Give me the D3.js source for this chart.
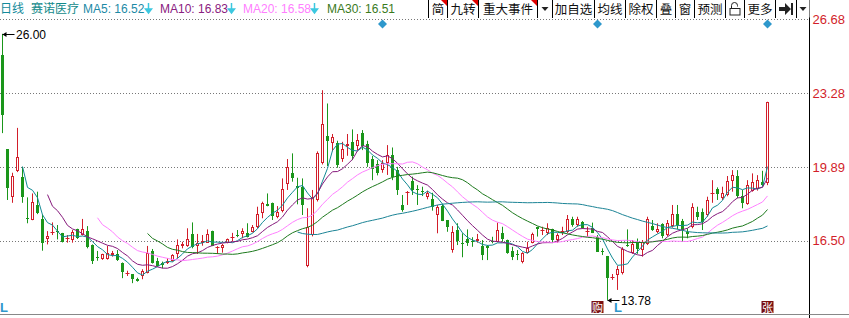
<!DOCTYPE html>
<html lang="zh">
<head>
<meta charset="utf-8">
<title>赛诺医疗 日线</title>
<script src="https://cdnjs.cloudflare.com/ajax/libs/d3/7.8.5/d3.min.js"></script>
<style>
  body { margin: 0; background: #fff; }
  svg { display: block; font-family: "Liberation Sans", "Noto Sans CJK SC", sans-serif; }
</style>
</head>
<body>
<script>
// daily OHLC (oldest first)
var openP = [25.02,20.69,18.52,19.71,19.41,17.55,17.44,18.14,17.50,16.56,16.84,16.95,16.84,16.58,16.53,17.02,16.76,16.94,16.30,15.75,
  15.65,15.65,15.85,15.89,15.49,14.98,14.97,14.74,14.88,15.00,16.03,15.59,15.49,15.49,15.58,15.88,16.27,16.27,16.81,16.26,
  16.38,16.41,16.94,16.19,16.15,16.38,16.64,16.78,16.81,16.87,16.91,17.14,17.76,18.18,18.22,17.57,17.86,19.09,19.59,19.01,
  18.95,15.35,16.76,18.37,20.05,21.30,20.97,20.99,20.23,20.86,21.04,20.84,21.43,20.94,20.23,20.00,19.74,20.05,20.43,19.74,
  18.14,18.72,19.25,18.88,18.76,18.50,18.40,17.68,18.09,17.45,16.07,16.99,16.40,16.56,16.50,16.49,16.26,16.26,16.47,16.45,
  16.84,16.53,16.04,15.87,15.54,15.95,16.41,17.12,16.95,16.84,17.02,16.53,16.89,16.91,17.48,17.22,17.37,16.90,17.07,16.68,
  16.05,15.80,14.80,14.93,15.00,16.29,15.95,16.38,16.07,16.35,17.17,16.91,17.27,16.76,17.17,17.72,17.42,16.91,17.14,17.83,
  17.83,17.68,18.67,18.86,18.45,18.60,19.25,19.47,18.55,18.18,18.80,18.86,19.21,19.13];
var highP = [26.00,20.69,19.62,21.68,19.89,18.49,18.67,18.75,17.71,16.94,17.34,17.22,16.86,16.76,16.99,17.05,17.50,17.17,16.33,16.03,
  15.90,16.26,16.03,16.07,15.50,15.12,14.97,14.80,15.19,16.26,16.12,15.71,15.54,15.69,15.88,16.56,16.45,17.07,17.34,16.81,
  16.76,17.02,16.96,16.25,16.35,16.60,16.86,16.99,17.07,17.30,17.22,18.06,18.29,18.67,18.25,18.09,19.36,20.25,20.51,19.39,
  19.36,17.99,18.83,20.60,23.41,22.80,21.40,21.09,21.04,21.40,21.61,21.40,21.58,21.09,20.39,20.20,20.20,20.89,20.78,19.89,
  18.60,18.78,19.44,19.05,18.98,18.79,18.70,18.14,18.18,17.45,17.17,17.30,16.84,17.02,16.66,16.81,16.53,16.30,16.68,17.33,
  17.14,16.55,16.22,16.07,15.97,16.45,16.87,17.14,17.14,17.30,17.05,16.84,17.14,17.68,17.60,17.60,17.40,17.14,17.33,16.76,
  16.15,15.80,14.97,15.34,16.20,17.02,16.53,16.60,16.53,17.60,17.45,17.30,17.30,17.45,18.14,18.14,17.50,17.07,18.22,18.06,
  17.98,18.52,19.28,18.95,18.98,19.47,19.74,19.74,18.83,19.28,19.59,19.51,19.71,22.88];
var lowP = [21.44,18.37,18.24,19.65,18.24,17.30,17.44,17.72,16.04,16.33,16.76,16.56,16.42,16.41,16.41,16.58,16.74,16.15,15.43,15.58,
  15.62,15.63,15.77,15.57,14.78,14.88,14.55,14.62,14.73,15.00,15.45,15.30,15.23,15.43,15.54,15.69,16.15,16.22,16.15,15.89,
  16.27,16.40,16.25,15.89,15.95,16.38,16.46,16.66,16.61,16.65,16.88,17.07,17.53,18.08,17.45,17.53,17.80,18.83,19.21,18.17,
  17.68,15.28,16.70,18.30,20.00,19.93,20.61,19.85,20.12,20.40,20.20,20.66,20.66,19.89,19.28,19.50,19.62,19.52,19.28,18.60,
  17.83,18.14,18.60,18.14,18.55,18.40,17.88,16.84,17.40,16.91,15.95,16.30,15.74,16.26,16.22,16.41,15.61,15.61,16.38,16.42,
  16.45,15.90,15.61,15.61,15.46,15.92,16.38,16.69,16.76,16.76,16.41,16.41,16.76,16.85,17.14,17.14,17.05,16.68,16.85,16.00,
  15.84,13.78,14.70,14.24,14.95,16.22,15.90,15.90,15.77,16.30,16.95,16.84,16.61,16.70,17.10,17.02,16.45,16.61,17.07,17.45,
  16.99,17.60,18.24,18.37,18.37,18.54,18.75,18.45,17.99,18.15,18.75,18.80,19.00,19.05];
var closeP = [22.27,18.93,19.47,20.33,18.52,17.48,18.28,17.76,16.41,16.72,16.91,16.90,16.43,16.62,16.89,16.61,17.02,16.20,15.58,15.74,
  15.88,15.92,15.95,15.61,15.08,15.02,14.74,14.67,15.11,15.95,15.49,15.34,15.39,15.58,15.84,16.30,16.35,16.56,16.22,16.38,
  16.49,16.81,16.27,16.23,16.30,16.56,16.68,16.75,16.96,16.68,17.14,17.71,18.22,18.09,17.65,17.83,18.86,19.89,19.39,18.90,
  18.14,17.14,18.52,20.52,21.85,21.08,21.24,19.97,20.69,20.94,20.39,21.12,20.84,20.05,19.78,19.62,20.08,20.43,19.41,18.83,
  17.91,18.75,18.83,18.86,18.74,18.70,18.03,18.03,17.42,17.11,16.91,16.50,16.36,16.38,16.48,16.57,15.84,16.15,16.45,16.99,
  16.56,15.95,15.77,15.84,15.92,16.15,16.81,17.06,16.99,17.07,16.53,16.76,16.93,17.48,17.22,17.48,17.07,16.93,16.87,16.00,
  16.03,14.78,14.84,15.19,16.11,16.26,16.35,16.11,16.45,17.48,16.99,17.02,16.72,17.33,17.72,17.22,16.99,16.81,18.03,17.57,
  17.37,18.37,18.70,18.64,18.67,19.25,19.51,18.55,18.24,19.06,19.21,19.28,19.06,22.88];

var maPeriods = [5, 10, 20, 30, 60];
var yTicks = [16.50, 19.89, 23.28, 26.68];
var eventIdx = [76, 119, 153];          // blue diamond markers
var legendItems = ["MA5: 16.52", "MA10: 16.83", "MA20: 16.58", "MA30: 16.51"];

var W = 849, H = 318;
var plotRight = 809.5;
var maColors = ["#128a94", "#86197c", "#ff80ff", "#1e7a1e", "#1c8496"];
var legendColors = ["#1c8aa6", "#8a2080", "#ff80ff", "#3a7a1c"];
var upColor = "#d21e2a", downColor = "#1a961a";

var svg = d3.select("body").append("svg")
    .attr("width", W)
    .attr("height", H);

// scales
var x = d3.scaleBand()
    .domain(d3.range(closeP.length))
    .range([0, closeP.length * 5]);
var cx = function(i) { return x(i) + x.bandwidth() / 2; };
var y = d3.scaleLinear()
    .domain([16.50, 26.68])
    .range([240.7, 19]);

// grid lines (dotted)
svg.append("g").selectAll("line")
    .data(yTicks)
    .enter().append("line")
    .attr("x1", 0).attr("x2", plotRight)
    .attr("y1", function(d) { return Math.round(y(d)) + 0.5; })
    .attr("y2", function(d) { return Math.round(y(d)) + 0.5; })
    .attr("stroke", "#777")
    .attr("stroke-dasharray", "1,2");

// right axis
var axis = svg.append("g")
    .attr("transform", "translate(" + plotRight + ",0)")
    .call(d3.axisRight(y).tickValues(yTicks).tickSize(0).tickPadding(3).tickFormat(d3.format(".2f")));
axis.select(".domain").remove();
axis.selectAll("text")
    .attr("fill", upColor)
    .attr("font-size", 13)
    .attr("font-family", "Liberation Sans, Arial, sans-serif");

svg.append("line")
    .attr("x1", plotRight).attr("x2", plotRight)
    .attr("y1", 0).attr("y2", H)
    .attr("stroke", "#000");
svg.append("line")
    .attr("x1", 0).attr("x2", W)
    .attr("y1", 314.5).attr("y2", 314.5)
    .attr("stroke", "#888");

// candles
var idx = d3.range(closeP.length);
var candles = svg.append("g").selectAll("g")
    .data(idx)
    .enter().append("g");

candles.each(function(i) {
  var g = d3.select(this);
  var o = openP[i], c = closeP[i], up = c >= o;
  var col = up ? upColor : downColor;
  var top = Math.round(y(Math.max(o, c))), bot = Math.round(y(Math.min(o, c)));
  var xc = cx(i);
  if (up) {
    g.append("line").attr("x1", xc).attr("x2", xc)
      .attr("y1", y(highP[i])).attr("y2", top).attr("stroke", col);
    g.append("line").attr("x1", xc).attr("x2", xc)
      .attr("y1", bot).attr("y2", y(lowP[i])).attr("stroke", col);
    if (bot - top < 2) {
      g.append("line").attr("x1", xc - 2).attr("x2", xc + 2)
        .attr("y1", top + 0.5).attr("y2", top + 0.5).attr("stroke", col);
    } else {
      g.append("rect")
        .attr("x", xc - 1).attr("y", top + 0.5)
        .attr("width", 2).attr("height", bot - top - 1)
        .attr("fill", "#fff").attr("stroke", col);
    }
  } else {
    g.append("line").attr("x1", xc).attr("x2", xc)
      .attr("y1", y(highP[i])).attr("y2", y(lowP[i])).attr("stroke", col);
    g.append("rect")
      .attr("x", xc - 1.5).attr("y", top)
      .attr("width", 3).attr("height", Math.max(bot - top, 1))
      .attr("fill", col);
  }
});
candles.selectAll("rect").attr("shape-rendering", "crispEdges");

// moving averages from closes
function movingAvg(n) {
  return closeP.map(function(c, i) {
    return i < n - 1 ? null : d3.mean(closeP.slice(i - n + 1, i + 1));
  });
}
var line = d3.line()
    .defined(function(d) { return d[1] !== null; })
    .x(function(d) { return cx(d[0]); })
    .y(function(d) { return y(d[1]); });

maPeriods.forEach(function(n, k) {
  var vals = movingAvg(n).map(function(v, i) { return [i, v]; });
  svg.append("path")
    .datum(vals)
    .attr("fill", "none")
    .attr("stroke", maColors[k])
    .attr("stroke-width", 1)
    .attr("d", line);
});

// max / min labels
function markLabel(i, v) {
  var xc = cx(i), yy = Math.round(y(v)) + 0.5;
  svg.append("line").attr("x1", xc).attr("x2", xc + 12)
    .attr("y1", yy).attr("y2", yy).attr("stroke", "#000");
  svg.append("path")
    .attr("d", "M" + xc + "," + yy + "l4,-2.5v5z")
    .attr("fill", "#000");
  svg.append("text")
    .attr("x", xc + 13.5).attr("y", yy + 4.5)
    .attr("font-size", 12).attr("fill", "#000")
    .text(d3.format(".2f")(v));
}
markLabel(d3.maxIndex(highP), d3.max(highP));
markLabel(d3.minIndex(lowP), d3.min(lowP));

// event diamonds
svg.append("g").selectAll("path")
    .data(eventIdx)
    .enter().append("path")
    .attr("d", function(i) { var xc = cx(i); return "M" + xc + ",19.5l4.5,4.5l-4.5,4.5l-4.5,-4.5z"; })
    .attr("fill", "#2e98cc");

// bottom signal boxes
[[119, "购"], [153, "张"]].forEach(function(s) {
  var xc = cx(s[0]);
  svg.append("rect").attr("x", xc - 6).attr("y", 301).attr("width", 12).attr("height", 12)
    .attr("fill", "#7a1010");
  svg.append("text").attr("x", xc).attr("y", 311.5)
    .attr("text-anchor", "middle").attr("font-size", 11).attr("fill", "#fff")
    .text(s[1]);
});
[0, 614].forEach(function(px) {
  svg.append("text").attr("x", px).attr("y", 312)
    .attr("font-size", 13).attr("font-weight", "bold").attr("fill", "#2e98cc")
    .text("L");
});

// legend
var leg = svg.append("g").attr("font-size", 12);
leg.append("text").attr("x", 0).attr("y", 13).attr("fill", "#138a9a").text("日线");
leg.append("text").attr("x", 31).attr("y", 13).attr("fill", "#138a8a").text("赛诺医疗");
var legX = [83, 160, 243, 327];
legendItems.forEach(function(t, k) {
  leg.append("text").attr("x", legX[k]).attr("y", 13).attr("fill", legendColors[k]).text(t);
  if (k < 3) {
    var ax = legX[k] + (k == 0 ? 65.5 : 71.5);
    leg.append("path")
      .attr("d", "M" + ax + ",3v7M" + (ax - 3) + ",9l3,4l3,-4z")
      .attr("stroke", "#3cc8e0").attr("fill", "#3cc8e0").attr("stroke-width", 1.5);
  }
});

// toolbar
var tools = [
  {a: 428.5, b: 447.5, t: "简", flag: true},
  {a: 447.5, b: 478.5, t: "九转", flag: true},
  {a: 478.5, b: 537.5, t: "重大事件", flag: true},
  {a: 537.5, b: 552.5, t: "", tri: true},
  {a: 552.5, b: 594.5, t: "加自选"},
  {a: 594.5, b: 625.5, t: "均线"},
  {a: 625.5, b: 656.5, t: "除权"},
  {a: 656.5, b: 675.5, t: "叠"},
  {a: 675.5, b: 694.5, t: "窗"},
  {a: 694.5, b: 725.5, t: "预测"},
  {a: 725.5, b: 744.5, t: "", lock: true},
  {a: 744.5, b: 775.5, t: "更多"},
  {a: 775.5, b: 796.5, t: "", end: true},
  {a: 796.5, b: 809.5, t: "", tri: true}
];
var tb = svg.append("g");
tb.append("rect").attr("x", 428.5).attr("y", 0).attr("width", 381).attr("height", 17.5).attr("fill", "#fff");
tools.forEach(function(d) {
  tb.append("line").attr("x1", d.a).attr("x2", d.a).attr("y1", 0).attr("y2", 18).attr("stroke", "#000");
  var mid = (d.a + d.b) / 2;
  if (d.t) {
    tb.append("text").attr("x", mid).attr("y", 13.5).attr("text-anchor", "middle")
      .attr("font-size", 12.5).attr("fill", "#111").text(d.t);
  }
  if (d.flag) {
    tb.append("path").attr("d", "M" + (d.b - 6.5) + ",0h6v6z").attr("fill", "#e00000");
  }
  if (d.tri) {
    tb.append("path").attr("d", "M" + (mid - 3.5) + ",7h7l-3.5,4z").attr("fill", "#222");
  }
  if (d.lock) {
    tb.append("rect").attr("x", mid - 5).attr("y", 8.5).attr("width", 10).attr("height", 6.5)
      .attr("fill", "none").attr("stroke", "#222");
    tb.append("path").attr("d", "M" + (mid - 3.5) + ",8.5v-3a3,3 0 0 1 6,0v1")
      .attr("fill", "none").attr("stroke", "#222");
  }
  if (d.end) {
    tb.append("path")
      .attr("d", "M" + (mid - 7) + ",7h6v-4l6,6l-6,6v-4h-6z")
      .attr("fill", "#222");
    tb.append("rect").attr("x", mid + 5).attr("y", 3).attr("width", 2).attr("height", 12).attr("fill", "#222");
  }
});
</script>
</body>
</html>
